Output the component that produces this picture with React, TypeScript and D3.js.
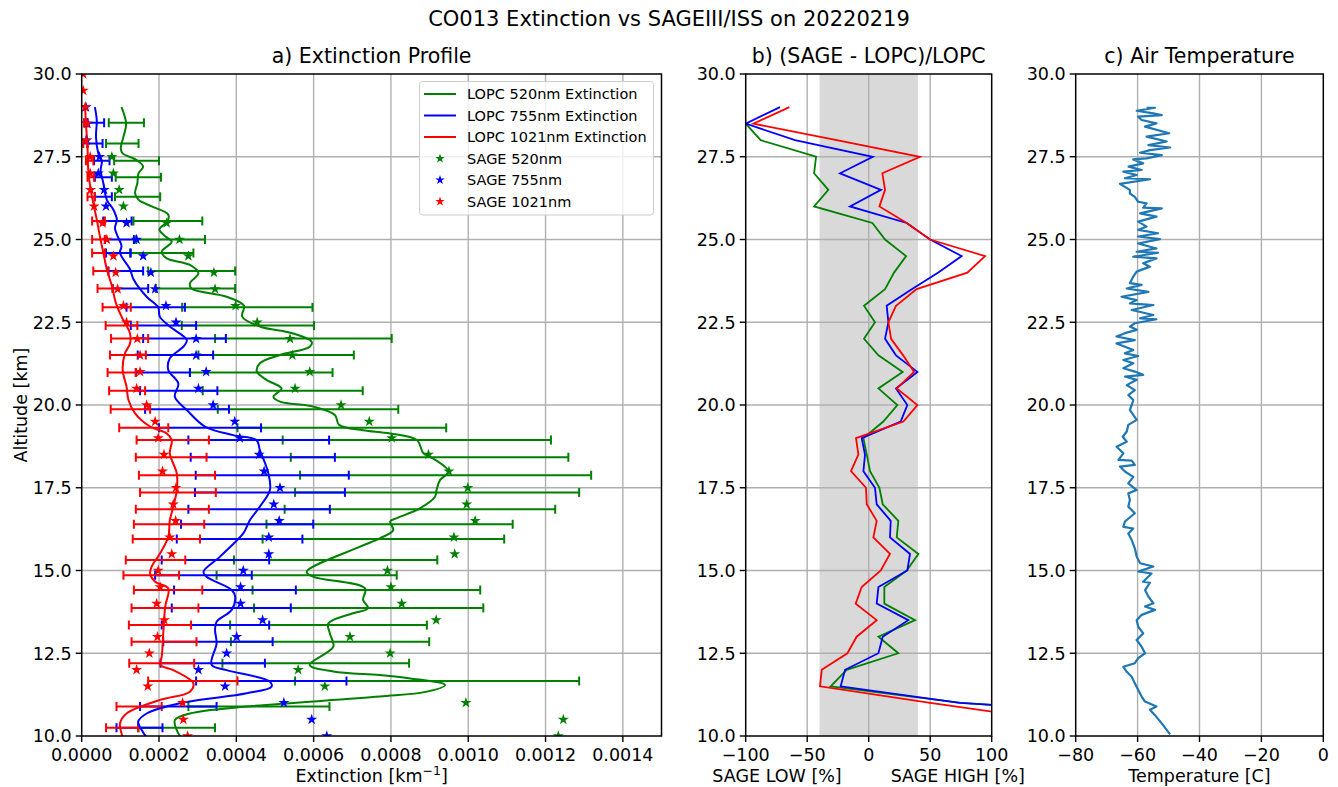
import React from 'react';
import * as d3 from 'd3';

const FONT = "'DejaVu Sans', Verdana, sans-serif";

// ---------- Panel a: LOPC extinction profiles (altitude km, extinction km^-1) ----------
const lopc520Alt = [29.0,28.5,28.1,27.75,27.6,27.4,27.2,27.0,26.7,26.4,26.2,26.0,25.75,25.55,25.3,25.1,24.93,24.63,24.43,24.23,23.98,23.68,23.52,23.27,23.0,22.67,22.37,22.16,21.91,21.76,21.51,21.26,21.01,20.76,20.5,20.25,20.1,19.95,19.7,19.4,19.24,19.14,18.94,18.54,18.44,17.99,17.73,17.43,17.23,16.88,16.58,16.48,16.22,15.97,15.72,14.96,14.81,14.46,14.11,13.86,13.71,13.4,13.1,12.7,12.15,11.95,11.84,11.74,11.54,11.34,11.19,10.89,10.68,10.48,10.18,9.9];
const lopc520 = [1.03e-4,1.15e-4,1.08e-4,1.01e-4,1.06e-4,1.42e-4,1.59e-4,1.47e-4,1.44e-4,1.38e-4,1.47e-4,1.81e-4,2.24e-4,2.22e-4,2.01e-4,2.16e-4,2.33e-4,2.07e-4,2.2e-4,2.8e-4,3.02e-4,2.8e-4,2.84e-4,3.75e-4,4.2e-4,4.15e-4,4.61e-4,5.47e-4,5.95e-4,5.9e-4,5.13e-4,4.61e-4,4.53e-4,4.78e-4,5.17e-4,4.96e-4,5.13e-4,5.99e-4,6.55e-4,6.66e-4,7.28e-4,7.98e-4,8.67e-4,8.84e-4,9.01e-4,9.49e-4,9.27e-4,9.18e-4,9.14e-4,8.75e-4,8.15e-4,7.98e-4,8.06e-4,7.71e-4,7.2e-4,5.82e-4,6.0e-4,7.33e-4,7.28e-4,7.41e-4,7.02e-4,6.38e-4,6.42e-4,6.51e-4,5.9e-4,6.51e-4,7.71e-4,8.5e-4,9.4e-4,8.93e-4,7.71e-4,4.27e-4,2.8e-4,2.41e-4,2.46e-4,2.6e-4];

const lopc755Alt = [29.0,28.6,28.1,27.6,27.35,27.1,26.7,26.2,25.9,25.6,25.35,25.15,24.8,24.6,24.1,23.8,23.27,22.95,22.67,22.37,21.96,21.76,21.41,21.06,20.65,20.25,19.85,19.35,19.09,18.94,18.64,17.93,17.43,16.93,16.52,16.32,16.12,15.42,14.96,14.81,14.41,14.21,13.81,13.45,13.2,12.8,12.15,11.99,11.64,11.49,11.29,10.99,10.68,10.43,10.18,9.9];
const lopc755 = [0.34e-4,0.39e-4,0.37e-4,0.43e-4,0.52e-4,0.49e-4,0.56e-4,0.65e-4,0.82e-4,0.91e-4,0.86e-4,0.91e-4,1.03e-4,0.99e-4,1.25e-4,1.34e-4,1.68e-4,1.98e-4,2.02e-4,2.28e-4,2.72e-4,2.63e-4,2.28e-4,2.24e-4,2.5e-4,2.41e-4,2.72e-4,3.19e-4,3.92e-4,4.52e-4,4.61e-4,4.83e-4,4.87e-4,4.61e-4,4.35e-4,4.27e-4,4.18e-4,3.58e-4,3.15e-4,3.23e-4,3.88e-4,3.97e-4,3.88e-4,3.49e-4,3.45e-4,3.49e-4,3.36e-4,3.75e-4,4.87e-4,4.91e-4,4.27e-4,2.54e-4,1.68e-4,1.46e-4,1.55e-4,1.72e-4];

const lopc1021Alt = [29.0,28.5,27.8,27.1,26.6,26.1,25.6,25.1,24.6,24.1,23.6,23.1,22.67,22.16,21.86,21.56,21.06,20.55,20.15,19.75,19.35,19.14,18.94,18.54,17.93,17.43,16.93,16.52,16.02,15.52,15.12,14.91,14.66,14.46,13.91,13.1,12.4,12.15,11.99,11.59,11.34,11.09,10.68,10.38,10.08,9.9];
const lopc1021 = [0.09e-4,0.11e-4,0.15e-4,0.17e-4,0.22e-4,0.3e-4,0.39e-4,0.47e-4,0.56e-4,0.65e-4,0.78e-4,0.88e-4,1.03e-4,1.25e-4,1.25e-4,1.12e-4,1.06e-4,1.16e-4,1.21e-4,1.38e-4,1.77e-4,2.2e-4,2.33e-4,2.28e-4,2.46e-4,2.46e-4,2.37e-4,2.28e-4,2.24e-4,2.03e-4,1.81e-4,1.77e-4,1.9e-4,2.24e-4,2.16e-4,2.11e-4,2.07e-4,2.03e-4,2.37e-4,2.89e-4,2.8e-4,2.03e-4,1.16e-4,0.99e-4,1.03e-4,1.08e-4];

// SAGE III/ISS values at 0.5 km steps (null = no value)
const sageAlt = [30.0,29.5,29.0,28.5,28.0,27.5,27.0,26.5,26.0,25.5,25.0,24.5,24.0,23.5,23.0,22.5,22.0,21.5,21.0,20.5,20.0,19.5,19.0,18.5,18.0,17.5,17.0,16.5,16.0,15.5,15.0,14.5,14.0,13.5,13.0,12.5,12.0,11.5,11.0,10.5,10.0];
const sage1021 = [0.04e-4,0.04e-4,0.09e-4,0.13e-4,0.11e-4,0.22e-4,0.22e-4,0.23e-4,0.32e-4,0.54e-4,0.65e-4,0.82e-4,0.88e-4,0.93e-4,1.08e-4,1.16e-4,1.44e-4,1.51e-4,1.51e-4,1.42e-4,1.68e-4,1.9e-4,1.98e-4,2.13e-4,2.09e-4,2.44e-4,2.37e-4,2.43e-4,2.28e-4,2.33e-4,1.98e-4,2.03e-4,1.94e-4,2.14e-4,1.96e-4,1.75e-4,1.42e-4,1.71e-4,2.61e-4,2.63e-4,2.74e-4];
const sage755 = [null,null,0.11e-4,0.15e-4,0.13e-4,0.46e-4,0.43e-4,0.58e-4,0.63e-4,1.16e-4,1.42e-4,1.59e-4,1.79e-4,1.9e-4,2.18e-4,2.44e-4,2.96e-4,2.96e-4,3.22e-4,3.02e-4,3.4e-4,3.96e-4,4.09e-4,4.59e-4,4.72e-4,5.13e-4,4.97e-4,5.11e-4,4.84e-4,4.84e-4,4.18e-4,4.11e-4,4.11e-4,4.68e-4,4.01e-4,3.75e-4,3.02e-4,3.71e-4,5.23e-4,5.95e-4,6.34e-4];
const sage520 = [null,null,null,null,null,0.78e-4,0.82e-4,0.97e-4,1.08e-4,2.2e-4,2.53e-4,2.76e-4,3.42e-4,3.45e-4,3.98e-4,4.54e-4,5.39e-4,5.45e-4,5.9e-4,5.52e-4,6.71e-4,7.44e-4,8.02e-4,8.97e-4,9.5e-4,9.99e-4,9.96e-4,10.18e-4,9.63e-4,9.65e-4,7.91e-4,8.0e-4,8.28e-4,9.17e-4,6.94e-4,7.98e-4,5.6e-4,6.29e-4,9.94e-4,12.46e-4,12.33e-4];

// LOPC uncertainty ranges (lower / upper bound)
const barAlt = [28.53,27.9,27.38,26.88,26.29,25.56,25.0,24.59,24.05,23.52,22.95,22.4,22.01,21.51,20.98,20.43,19.87,19.31,18.94,18.42,17.88,17.36,16.85,16.4,15.95,15.32,14.86,14.41,13.87,13.35,12.85,12.2,11.66,10.89,10.25];
const bar1021Lo = [0.06e-4,0.04e-4,0.11e-4,0.15e-4,0.15e-4,0.27e-4,0.27e-4,0.27e-4,0.3e-4,0.41e-4,0.54e-4,0.62e-4,0.76e-4,0.73e-4,0.67e-4,0.71e-4,0.75e-4,0.97e-4,1.42e-4,1.4e-4,1.48e-4,1.51e-4,1.4e-4,1.35e-4,1.32e-4,1.14e-4,1.08e-4,1.35e-4,1.29e-4,1.22e-4,1.29e-4,1.23e-4,1.72e-4,0.9e-4,0.63e-4];
const bar1021Hi = [0.15e-4,0.15e-4,0.3e-4,0.32e-4,0.34e-4,0.6e-4,0.6e-4,0.6e-4,0.69e-4,0.8e-4,1.27e-4,1.44e-4,1.72e-4,1.66e-4,1.4e-4,1.64e-4,1.77e-4,2.24e-4,3.29e-4,3.23e-4,3.45e-4,3.47e-4,3.29e-4,3.17e-4,3.06e-4,2.68e-4,2.52e-4,3.12e-4,3.02e-4,2.83e-4,2.97e-4,2.91e-4,4.03e-4,2.07e-4,1.46e-4];
const bar755Lo = [0.15e-4,0.15e-4,0.32e-4,0.34e-4,0.34e-4,0.56e-4,0.6e-4,0.63e-4,0.69e-4,0.8e-4,1.16e-4,1.27e-4,1.59e-4,1.45e-4,1.4e-4,1.51e-4,1.64e-4,2.0e-4,2.76e-4,2.82e-4,2.95e-4,2.93e-4,2.76e-4,2.57e-4,2.46e-4,2.07e-4,1.9e-4,2.39e-4,2.33e-4,2.07e-4,2.11e-4,2.04e-4,2.96e-4,1.51e-4,0.9e-4];
const bar755Hi = [0.58e-4,0.54e-4,0.72e-4,0.78e-4,0.78e-4,1.29e-4,1.35e-4,1.27e-4,1.59e-4,1.72e-4,2.67e-4,2.96e-4,3.73e-4,3.4e-4,2.8e-4,3.51e-4,3.81e-4,4.64e-4,6.4e-4,6.55e-4,6.91e-4,6.81e-4,6.42e-4,5.99e-4,5.71e-4,4.85e-4,4.4e-4,5.54e-4,5.41e-4,4.85e-4,4.94e-4,4.74e-4,6.85e-4,3.49e-4,2.09e-4];
const bar520Lo = [0.7e-4,0.63e-4,0.84e-4,0.88e-4,0.86e-4,1.34e-4,1.41e-4,1.25e-4,1.72e-4,1.92e-4,2.6e-4,2.59e-4,3.45e-4,3.02e-4,2.8e-4,3.13e-4,3.52e-4,4.03e-4,5.2e-4,5.41e-4,5.65e-4,5.52e-4,5.25e-4,4.78e-4,4.68e-4,3.94e-4,3.49e-4,4.42e-4,4.46e-4,3.84e-4,3.86e-4,3.64e-4,5.52e-4,2.76e-4,1.47e-4];
const bar520Hi = [1.61e-4,1.47e-4,2.0e-4,2.05e-4,2.03e-4,3.12e-4,3.19e-4,2.89e-4,3.97e-4,3.97e-4,5.97e-4,6.01e-4,8.02e-4,7.04e-4,6.49e-4,7.27e-4,8.19e-4,9.43e-4,12.14e-4,12.59e-4,13.18e-4,12.87e-4,12.25e-4,11.15e-4,10.93e-4,9.2e-4,8.15e-4,10.31e-4,10.39e-4,8.93e-4,8.99e-4,8.47e-4,12.87e-4,6.41e-4,3.45e-4];

// ---------- Panel b: (SAGE - LOPC)/LOPC in % ----------
const diffAlt = [29.0,28.5,28.0,27.5,27.0,26.5,26.0,25.5,25.0,24.5,24.0,23.5,23.0,22.5,22.0,21.5,21.0,20.5,20.0,19.5,19.0,18.5,18.0,17.5,17.0,16.5,16.0,15.5,15.0,14.5,14.0,13.5,13.0,12.5,12.0,11.5,11.0,10.5];
const diff520 = [null,-100,-87.8,-42.8,-44.4,-32.8,-44.4,3.0,13.3,30.4,20.6,13.3,-3.8,5.1,-3.8,7.9,27.6,7.9,23.3,11.9,-4.3,-1.6,1.1,8.7,11.4,24.1,22.8,40.4,30.9,12.7,12.7,37.7,7.9,24.1,-17.9,-30.9,75,290];
const diff755 = [-72.1,-100,-59.9,3.3,-23.3,10.0,-15.2,30.9,49.9,75.6,56.6,35,14.6,16.0,13.3,22.2,39.6,22.2,31.4,26.0,-5.7,-3.0,-4.3,5.1,6.5,17.9,17.3,33.6,31.4,7.9,6.5,32.2,11.4,7.9,-19.2,-22.8,74,290];
const diff1021 = [-64.5,-93.8,-26,41.7,11.1,13.3,8.7,30.9,49.9,94.6,80.2,39.0,22.2,16.0,18.2,28,36.9,22.8,39.6,28.2,-10.3,-8.4,-14.4,-2.2,-1.6,6.5,3.8,17.3,9.8,-5.7,-10.6,6.5,-9.8,-17.3,-38.2,-39.6,50,146];
const bandLimits = [-40, 40];

// ---------- Panel c: air temperature ----------
const tempAlt = [28.98,28.98,28.89,28.81,28.76,28.71,28.61,28.51,28.41,28.21,28.11,27.96,27.85,27.78,27.70,27.62,27.55,27.45,27.42,27.30,27.20,27.10,27.05,26.95,26.85,26.82,26.68,26.50,26.39,26.29,26.14,26.09,25.96,25.94,25.79,25.69,25.54,25.39,25.29,25.19,25.09,25.01,24.88,24.73,24.63,24.60,24.48,24.43,24.28,24.18,24.03,23.88,23.68,23.63,23.52,23.42,23.27,23.17,23.07,23.02,22.87,22.72,22.62,22.59,22.47,22.37,22.27,22.17,22.07,21.96,21.86,21.76,21.66,21.56,21.48,21.36,21.26,21.11,21.01,20.91,20.86,20.76,20.60,20.45,20.30,20.15,20.0,19.85,19.55,19.40,19.20,19.04,18.89,18.74,18.54,18.34,18.32,18.19,18.14,17.99,17.83,17.63,17.43,17.33,17.13,16.93,16.73,16.48,16.32,16.27,16.12,15.92,15.67,15.42,15.22,15.12,14.97,14.91,14.66,14.63,14.41,14.21,14.01,13.91,13.81,13.66,13.5,13.3,13.1,12.9,12.7,12.5,12.35,12.2,12.09,11.94,11.79,11.59,11.39,11.19,11.04,10.89,10.79,10.63,10.38,10.05];
const tempC = [-57.1,-54.4,-60.3,-54.9,-52.2,-59.8,-58.7,-53.9,-57.6,-49.8,-57.1,-50.6,-56.5,-49.5,-56.0,-59.2,-52.2,-57.1,-61.4,-58.2,-62.9,-58.7,-64.6,-60.3,-64.1,-56.0,-65.7,-62.5,-62.5,-60.9,-59.8,-57.1,-58.2,-52.2,-59.2,-53.9,-59.8,-57.1,-59.8,-53.4,-59.8,-52.8,-59.8,-53.9,-60.3,-53.4,-61.4,-53.9,-58.2,-56.0,-60.3,-61.4,-62.5,-58.7,-63.5,-56.5,-65.2,-60.3,-62.5,-54.9,-61.9,-54.9,-59.2,-53.9,-60.9,-62.5,-60.3,-64.1,-66.8,-60.9,-66.8,-64.1,-61.4,-64.1,-59.8,-64.6,-61.4,-64.6,-60.9,-58.2,-64.1,-60.3,-63.5,-60.9,-63.0,-61.4,-61.9,-62.5,-60.3,-63.0,-63.5,-64.8,-63.5,-66.8,-64.6,-66.2,-61.9,-60.9,-65.7,-64.1,-61.4,-63.0,-60.3,-63.0,-62.5,-63.0,-60.9,-64.1,-64.6,-61.4,-63.0,-61.9,-60.9,-60.3,-59.2,-54.9,-59.8,-55.5,-58.2,-56.0,-57.6,-56.5,-54.9,-57.6,-54.4,-58.7,-60.3,-59.8,-58.2,-60.3,-58.7,-57.6,-59.8,-60.9,-64.6,-63.5,-61.9,-60.9,-59.8,-58.7,-57.6,-53.9,-56.0,-54.4,-52.2,-49.5];

// ---------- axis ticks ----------
const altTicks = [10.0, 12.5, 15.0, 17.5, 20.0, 22.5, 25.0, 27.5, 30.0];
const extTicks = [0, 0.0002, 0.0004, 0.0006, 0.0008, 0.001, 0.0012, 0.0014];
const diffTicks = [-100, -50, 0, 50, 100];
const tempTicks = [-80, -60, -40, -20, 0];

const GREEN = '#008000';
const BLUE = '#0000ff';
const RED = '#ff0000';
const GRID = '#b0b0b0';
const TICK_FS = 17.5;
const TITLE_FS = 20.5;

const Y0 = 74, Y1 = 736;
const A = { x0: 81.7, x1: 661.5 };
const B = { x0: 745.7, x1: 991.7 };
const C = { x0: 1075.7, x1: 1323.3 };

const yAlt = d3.scaleLinear().domain([10, 30]).range([Y1, Y0]);
const xA = d3.scaleLinear().domain([0, 0.0015]).range([A.x0, A.x1]);
const xB = d3.scaleLinear().domain([-100, 100]).range([B.x0, B.x1]);
const xC = d3.scaleLinear().domain([-80, 0]).range([C.x0, C.x1]);

function zip(alt: number[], v: (number | null)[]) {
  const out: [number, number][] = [];
  alt.forEach((a, i) => { const x = v[i]; if (x !== null && x !== undefined) out.push([a, x]); });
  return out;
}

function Frame({ x0, x1, xScale, xTicks, fmt }: any) {
  return (
    <g>
      {xTicks.map((t: number, i: number) => (
        <g key={'xt' + i}>
          <line x1={xScale(t)} x2={xScale(t)} y1={Y1} y2={Y1 + 6} stroke="#000" strokeWidth={1.4} />
          <text x={xScale(t)} y={Y1 + 24.5} textAnchor="middle" fontSize={TICK_FS} fontFamily={FONT}>{fmt(t)}</text>
        </g>
      ))}
      {altTicks.map((t, i) => (
        <g key={'yt' + i}>
          <line x1={x0 - 6} x2={x0} y1={yAlt(t)} y2={yAlt(t)} stroke="#000" strokeWidth={1.4} />
          <text x={x0 - 10} y={yAlt(t) + 6.3} textAnchor="end" fontSize={TICK_FS} fontFamily={FONT}>{t.toFixed(1)}</text>
        </g>
      ))}
      <rect x={x0} y={Y0} width={x1 - x0} height={Y1 - Y0} fill="none" stroke="#000" strokeWidth={1.5} />
    </g>
  );
}

function Grid({ x0, x1, xs }: any) {
  return (
    <g>
      {xs.map((x: number, i: number) => (
        <line key={'gx' + i} x1={x} x2={x} y1={Y0} y2={Y1} stroke={GRID} strokeWidth={1.4} />
      ))}
      {altTicks.slice(1, -1).map((t, i) => (
        <line key={'gy' + i} x1={x0} x2={x1} y1={yAlt(t)} y2={yAlt(t)} stroke={GRID} strokeWidth={1.4} />
      ))}
    </g>
  );
}

export default function App() {
  const smooth = d3.line<[number, number]>().x(d => xA(d[1])).y(d => yAlt(d[0])).curve(d3.curveCatmullRom.alpha(0.5));
  const lineB = d3.line<[number, number]>().x(d => xB(d[1])).y(d => yAlt(d[0]));
  const lineC = d3.line<[number, number]>().x(d => xC(d[1])).y(d => yAlt(d[0]));
  const star = d3.symbol().type(d3.symbolStar).size(38)() as string;
  const starLeg = d3.symbol().type(d3.symbolStar).size(28)() as string;

  const lopcSeries = [
    { alt: lopc520Alt, v: lopc520, color: GREEN },
    { alt: lopc755Alt, v: lopc755, color: BLUE },
    { alt: lopc1021Alt, v: lopc1021, color: RED },
  ];
  const barSeries = [
    { lo: bar520Lo, hi: bar520Hi, color: GREEN },
    { lo: bar755Lo, hi: bar755Hi, color: BLUE },
    { lo: bar1021Lo, hi: bar1021Hi, color: RED },
  ];
  const sageSeries = [
    { v: sage520, color: GREEN },
    { v: sage755, color: BLUE },
    { v: sage1021, color: RED },
  ];
  const diffSeries = [
    { v: diff520, color: GREEN },
    { v: diff755, color: BLUE },
    { v: diff1021, color: RED },
  ];
  const legendItems = [
    { label: 'LOPC 520nm Extinction', color: GREEN, kind: 'line' },
    { label: 'LOPC 755nm Extinction', color: BLUE, kind: 'line' },
    { label: 'LOPC 1021nm Extinction', color: RED, kind: 'line' },
    { label: 'SAGE 520nm', color: GREEN, kind: 'star' },
    { label: 'SAGE 755nm', color: BLUE, kind: 'star' },
    { label: 'SAGE 1021nm', color: RED, kind: 'star' },
  ];

  return (
    <svg width={1338} height={787} style={{ position: 'absolute', left: 0, top: 0, background: '#fff' }} fontFamily={FONT}>
      <defs>
        <clipPath id="clipA"><rect x={A.x0} y={Y0} width={A.x1 - A.x0} height={Y1 - Y0} /></clipPath>
        <clipPath id="clipB"><rect x={B.x0} y={Y0} width={B.x1 - B.x0} height={Y1 - Y0} /></clipPath>
        <clipPath id="clipC"><rect x={C.x0} y={Y0} width={C.x1 - C.x0} height={Y1 - Y0} /></clipPath>
      </defs>
      <rect x={0} y={0} width={1338} height={787} fill="#fff" />

      <text x={669} y={26} textAnchor="middle" fontSize={21}>CO013 Extinction vs SAGEIII/ISS on 20220219</text>

      {/* ---------------- Panel a ---------------- */}
      <Grid x0={A.x0} x1={A.x1} xs={extTicks.slice(1).map(t => xA(t))} />
      <g clipPath="url(#clipA)">
        {barSeries.map((s, si) => (
          <g key={'bs' + si} stroke={s.color} strokeWidth={2}>
            {barAlt.map((a, i) => {
              const y = yAlt(a), l = xA(s.lo[i]), h = xA(s.hi[i]);
              return (
                <g key={i}>
                  <line x1={l} x2={h} y1={y} y2={y} />
                  <line x1={l} x2={l} y1={y - 4.5} y2={y + 4.5} />
                  <line x1={h} x2={h} y1={y - 4.5} y2={y + 4.5} />
                </g>
              );
            })}
          </g>
        ))}
        {lopcSeries.map((s, si) => (
          <path key={'l' + si} d={smooth(zip(s.alt, s.v)) || ''} fill="none" stroke={s.color} strokeWidth={2} />
        ))}
        {sageSeries.map((s, si) => (
          <g key={'s' + si} fill={s.color}>
            {zip(sageAlt, s.v).map((d, i) => (
              <path key={i} d={star} transform={`translate(${xA(d[1])},${yAlt(d[0])})`} />
            ))}
          </g>
        ))}
      </g>
      <Frame x0={A.x0} x1={A.x1} xScale={xA} xTicks={extTicks} fmt={(t: number) => t.toFixed(4)} />
      <text x={(A.x0 + A.x1) / 2} y={63} textAnchor="middle" fontSize={TITLE_FS}>a) Extinction Profile</text>
      <text x={(A.x0 + A.x1) / 2} y={782} textAnchor="middle" fontSize={TICK_FS}>
        Extinction [km<tspan fontSize={12.5} dy={-7}>−1</tspan><tspan dy={7}>]</tspan>
      </text>
      <text transform={`translate(27,${(Y0 + Y1) / 2}) rotate(-90)`} textAnchor="middle" fontSize={TICK_FS}>Altitude [km]</text>

      {/* legend */}
      <g>
        <rect x={419.5} y={81.5} width={234} height={133.5} rx={3} fill="#fff" fillOpacity={0.8} stroke="#cccccc" strokeWidth={1} />
        {legendItems.map((it, i) => {
          const y = 94 + i * 21.5;
          return (
            <g key={'lg' + i}>
              {it.kind === 'line'
                ? <line x1={424} x2={456} y1={y} y2={y} stroke={it.color} strokeWidth={2} />
                : <path d={starLeg} transform={`translate(440,${y})`} fill={it.color} />}
              <text x={467} y={y + 5.2} fontSize={14.5}>{it.label}</text>
            </g>
          );
        })}
      </g>

      {/* ---------------- Panel b ---------------- */}
      <rect x={xB(bandLimits[0])} y={Y0} width={xB(bandLimits[1]) - xB(bandLimits[0])} height={Y1 - Y0} fill="#d9d9d9" />
      <Grid x0={B.x0} x1={B.x1} xs={[-50, 0, 50].map(t => xB(t))} />
      <g clipPath="url(#clipB)">
        {diffSeries.map((s, si) => (
          <path key={'d' + si} d={lineB(zip(diffAlt, s.v)) || ''} fill="none" stroke={s.color} strokeWidth={1.8} />
        ))}
      </g>
      <Frame x0={B.x0} x1={B.x1} xScale={xB} xTicks={diffTicks} fmt={(t: number) => (t < 0 ? '−' + Math.abs(t) : String(t))} />
      <text x={(B.x0 + B.x1) / 2} y={63} textAnchor="middle" fontSize={TITLE_FS}>b) (SAGE - LOPC)/LOPC</text>
      <text x={(B.x0 + B.x1) / 2 - 27} y={782} textAnchor="end" fontSize={TICK_FS}>SAGE LOW [%]</text>
      <text x={(B.x0 + B.x1) / 2 + 22} y={782} textAnchor="start" fontSize={TICK_FS}>SAGE HIGH [%]</text>

      {/* ---------------- Panel c ---------------- */}
      <Grid x0={C.x0} x1={C.x1} xs={[-60, -40, -20].map(t => xC(t))} />
      <g clipPath="url(#clipC)">
        <path d={lineC(zip(tempAlt, tempC)) || ''} fill="none" stroke="#1f77b4" strokeWidth={2.2} strokeLinejoin="round" />
      </g>
      <Frame x0={C.x0} x1={C.x1} xScale={xC} xTicks={tempTicks} fmt={(t: number) => (t < 0 ? '−' + Math.abs(t) : String(t))} />
      <text x={(C.x0 + C.x1) / 2} y={63} textAnchor="middle" fontSize={TITLE_FS}>c) Air Temperature</text>
      <text x={(C.x0 + C.x1) / 2} y={782} textAnchor="middle" fontSize={TICK_FS}>Temperature [C]</text>
    </svg>
  );
}
